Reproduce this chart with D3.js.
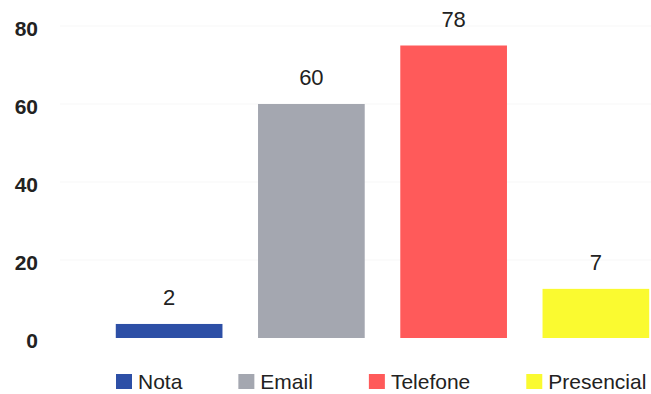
<!DOCTYPE html>
<html>
<head>
<meta charset="utf-8">
<script src="https://cdn.jsdelivr.net/npm/d3@7"></script>
<style>
  html, body { margin: 0; padding: 0; background: #fff; }
  svg { display: block; }
</style>
</head>
<body>
<svg id="chart" width="651" height="394"></svg>
<script>
// Data
const categories = ["Nota", "Email", "Telefone", "Presencial"];
const valueLabels = ["2", "60", "78", "7"];          // numbers printed above bars
const barHeights = [3.6, 60, 75, 12.6];              // bar heights as drawn (axis units)
const colors = ["#2d4fa6", "#a4a7b0", "#ff5a5a", "#fafa30"];
const yTicks = [0, 20, 40, 60, 80];

const W = 651, H = 394;
const svg = d3.select("#chart");
const font = "'Liberation Sans', Arial, Helvetica, sans-serif";

const x = d3.scaleBand()
  .domain(categories)
  .range([98, 667])
  .paddingInner(0.25)
  .paddingOuter(0.125);

const y = d3.scaleLinear().domain([0, 80]).range([338, 26]);

// faint grid
svg.append("g").selectAll("line").data(yTicks.slice(1)).join("line")
  .attr("x1", 60).attr("x2", W)
  .attr("y1", d => y(d)).attr("y2", d => y(d))
  .attr("stroke", "#f7f7f7").attr("stroke-width", 1);

// y axis
const yAxis = d3.axisLeft(y).tickValues(yTicks).tickSize(0).tickPadding(0);
const gy = svg.append("g").attr("transform", "translate(38,3)").call(yAxis);
gy.select(".domain").remove();
gy.selectAll("text")
  .attr("font-family", font)
  .attr("font-size", 21)
  .attr("font-weight", "bold")
  .attr("fill", "#222");

// bars
svg.append("g").selectAll("rect").data(categories).join("rect")
  .attr("x", d => x(d))
  .attr("width", x.bandwidth())
  .attr("y", (d, i) => y(barHeights[i]))
  .attr("height", (d, i) => y(0) - y(barHeights[i]))
  .attr("fill", (d, i) => colors[i]);

// value labels
svg.append("g").selectAll("text").data(categories).join("text")
  .attr("x", d => x(d) + x.bandwidth() / 2)
  .attr("y", (d, i) => y(barHeights[i]) - 19)
  .attr("text-anchor", "middle")
  .attr("font-family", font)
  .attr("font-size", 22)
  .attr("fill", "#222")
  .text((d, i) => valueLabels[i]);

// legend
const lg = svg.append("g");
let lx = 116;
categories.forEach((c, i) => {
  lg.append("rect")
    .attr("x", lx).attr("y", 374)
    .attr("width", 16).attr("height", 15)
    .attr("fill", colors[i]);
  const t = lg.append("text")
    .attr("x", lx + 22).attr("y", 389)
    .attr("font-family", font)
    .attr("font-size", 21)
    .attr("fill", "#222")
    .text(c);
  lx = lx + 22 + t.node().getComputedTextLength() + 56;
});
</script>
</body>
</html>
